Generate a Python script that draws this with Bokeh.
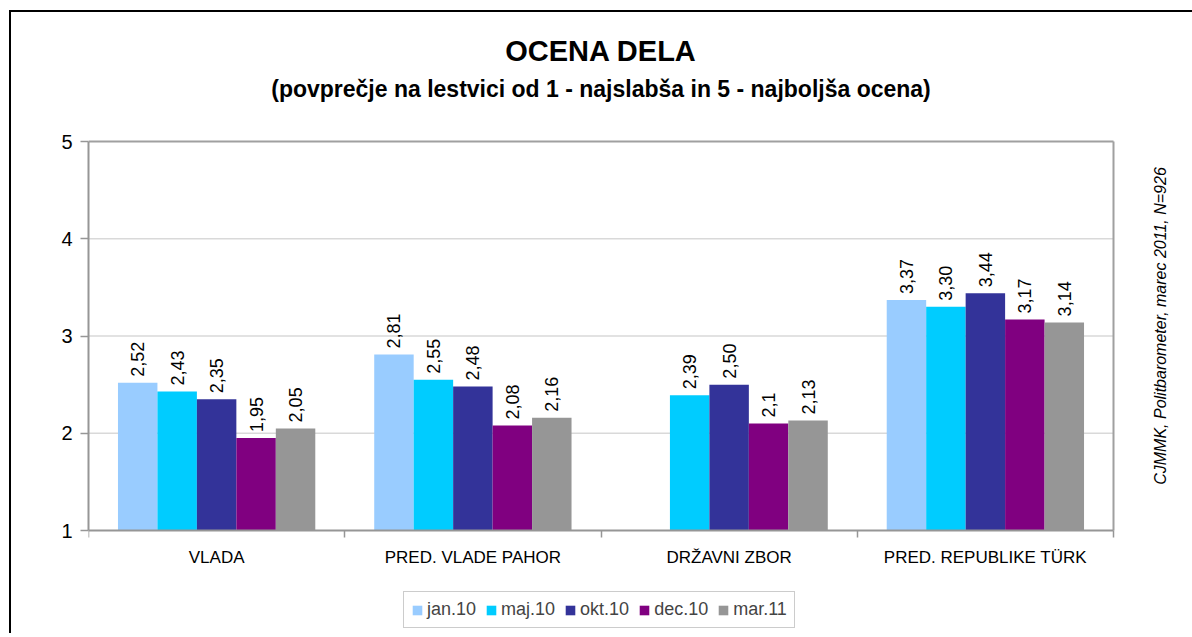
import numpy as np
from bokeh.plotting import figure
from bokeh.models import (ColumnDataSource, Range1d, FixedTicker, Legend, LegendItem, Label)
from bokeh.embed import file_html
from bokeh.resources import INLINE
from bokeh.core.properties import value

categories = ["VLADA", "PRED. VLADE PAHOR", "DRŽAVNI ZBOR", "PRED. REPUBLIKE TÜRK"]
series = ["jan.10", "maj.10", "okt.10", "dec.10", "mar.11"]
jan10 = [2.52, 2.81, None, 3.37]
maj10 = [2.43, 2.55, 2.39, 3.30]
okt10 = [2.35, 2.48, 2.50, 3.44]
dec10 = [1.95, 2.08, 2.10, 3.17]
mar11 = [2.05, 2.16, 2.13, 3.14]
lab_jan10 = ["2,52", "2,81", "", "3,37"]
lab_maj10 = ["2,43", "2,55", "2,39", "3,30"]
lab_okt10 = ["2,35", "2,48", "2,50", "3,44"]
lab_dec10 = ["1,95", "2,08", "2,1", "3,17"]
lab_mar11 = ["2,05", "2,16", "2,13", "3,14"]
y_ticks = [1, 2, 3, 4, 5]
colors = ["#99CCFF", "#00CCFF", "#333399", "#800080", "#969696"]

title = "OCENA DELA"
subtitle = "(povprečje na lestvici od 1 - najslabša in 5 - najboljša ocena)"
source_note = "CJMMK, Politbarometer, marec 2011, N=926"

FONT = "Liberation Sans"
Y_MIN, Y_MAX = 1, 5
X_MIN, X_MAX = 0, len(categories)

# layout geometry (pixels)
PX_X = 256.25          # px per category
PX_Y = 97.25           # px per rating unit
FRAME_W, FRAME_H = 1104, 621
ROOM_BELOW, ROOM_ABOVE = 103, 129   # space below value 1 / above value 5
x_end = FRAME_W / PX_X
y_start = Y_MIN - ROOM_BELOW / PX_Y
y_end = Y_MAX + ROOM_ABOVE / PX_Y

p = figure(frame_width=FRAME_W, frame_height=FRAME_H,
           x_range=Range1d(X_MIN, x_end), y_range=Range1d(y_start, y_end),
           output_backend="svg", toolbar_location=None,
           min_border_left=77, min_border_right=0,
           min_border_top=0, min_border_bottom=0)
p.styles = {"border-top": "2px solid black", "border-left": "2px solid black",
            "margin-left": "9px", "margin-top": "10px"}
p.background_fill_color = "white"
p.border_fill_color = "white"
p.outline_line_color = None
p.xgrid.visible = False
p.ygrid.visible = False

# x axis, drawn at y = 1 inside the frame
ncat = len(categories)
centers = [i + 0.5 for i in range(ncat)]
p.xaxis.fixed_location = Y_MIN
p.xaxis.bounds = (X_MIN, X_MAX)
p.xaxis.ticker = FixedTicker(ticks=centers, minor_ticks=list(range(ncat + 1)))
p.xaxis.major_label_overrides = {c: name for c, name in zip(centers, categories)}
p.xaxis.major_tick_out = 0
p.xaxis.major_tick_in = 0
p.xaxis.minor_tick_out = 7
p.xaxis.minor_tick_in = 0
p.xaxis.minor_tick_line_color = "#969696"
p.xaxis.minor_tick_line_width = 1.5
p.xaxis.axis_line_color = "#969696"
p.xaxis.axis_line_width = 2
p.xaxis.major_label_text_font = FONT
p.xaxis.major_label_text_font_size = "17px"
p.xaxis.major_label_text_color = "black"
p.xaxis.major_label_standoff = 10

# y axis
p.yaxis.bounds = (Y_MIN, Y_MAX)
p.yaxis.ticker = FixedTicker(ticks=y_ticks, minor_ticks=[])
p.yaxis.major_tick_out = 8
p.yaxis.major_tick_in = 0
p.yaxis.minor_tick_out = 0
p.yaxis.minor_tick_in = 0
p.yaxis.major_tick_line_color = "#969696"
p.yaxis.major_tick_line_width = 1.5
p.yaxis.axis_line_color = "#969696"
p.yaxis.axis_line_width = 2
p.yaxis.major_label_text_font = FONT
p.yaxis.major_label_text_font_size = "20px"
p.yaxis.major_label_text_color = "black"
p.yaxis.major_label_standoff = 8

# horizontal grid lines inside the plot area
inner = y_ticks[1:-1]
p.segment(x0=[X_MIN] * len(inner), y0=inner, x1=[X_MAX] * len(inner), y1=inner,
          line_color="#d9d9d9", line_width=1.5)

all_vals = [jan10, maj10, okt10, dec10, mar11]
all_labs = [lab_jan10, lab_maj10, lab_okt10, lab_dec10, lab_mar11]
bw = 0.77 / len(series)
items = []
for i, (name, vals, labs, col) in enumerate(zip(series, all_vals, all_labs, colors)):
    xs, tops, ts = [], [], []
    for c, v, l in zip(centers, vals, labs):
        if v is None:
            continue
        xs.append(c + (i - 2) * bw)
        tops.append(v)
        ts.append(l)
    src = ColumnDataSource(dict(x=xs, top=tops, text=ts))
    r = p.vbar(x="x", top="top", bottom=Y_MIN, width=bw, source=src,
               fill_color=col, line_color=None)
    p.text(x="x", y="top", text="text", source=src, angle=np.pi / 2,
           text_align="left", text_baseline="middle", y_offset=-6,
           text_font=value(FONT), text_font_size="18px", text_color="black")
    items.append(LegendItem(label=name, renderers=[r]))

# plot-area border (top and right)
p.segment(x0=[X_MIN, X_MAX], y0=[Y_MAX, Y_MIN], x1=[X_MAX, X_MAX], y1=[Y_MAX, Y_MAX],
          line_color="#a0a0a0", line_width=2)

legend = Legend(items=items, orientation="horizontal", location=(315, 5),
                glyph_width=12, glyph_height=12, label_text_font=FONT,
                label_text_font_size="18px", label_standoff=4, spacing=9,
                padding=7, margin=0, border_line_color="#999999",
                border_line_width=1.5, background_fill_color="white",
                background_fill_alpha=1)
p.add_layout(legend)

mid_x = (X_MIN + X_MAX) / 2
p.add_layout(Label(x=mid_x, y=Y_MIN + 480 / PX_Y, text=title, text_align="center",
                   text_baseline="alphabetic", text_font=FONT, text_color="black",
                   text_font_size="29px", text_font_style="bold"))
p.add_layout(Label(x=mid_x, y=Y_MIN + 442 / PX_Y, text=subtitle, text_align="center",
                   text_baseline="alphabetic", text_font=FONT, text_color="black",
                   text_font_size="23px", text_font_style="bold"))
p.add_layout(Label(x=X_MAX + 47 / PX_X, y=Y_MIN + 204.5 / PX_Y, text=source_note,
                   angle=np.pi / 2, text_align="center", text_baseline="middle",
                   text_font=FONT, text_color="black",
                   text_font_size="16px", text_font_style="italic"))

open("out.html", "w").write(file_html(p, INLINE))
